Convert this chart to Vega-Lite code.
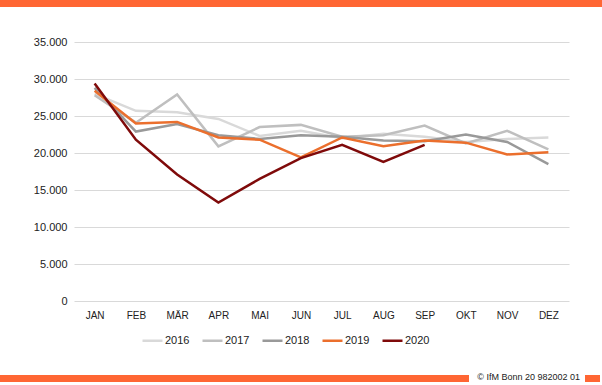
{
  "$schema": "https://vega.github.io/schema/vega-lite/v6.json",
  "width": 495,
  "height": 259,
  "autosize": {"type": "none"},
  "padding": {"left": 74, "top": 42, "right": 33, "bottom": 84},
  "background": "white",
  "config": {
    "font": "Liberation Sans",
    "view": {"stroke": null},
    "locale": {"number": {"decimal": ",", "thousands": ".", "grouping": [3], "currency": ["", " €"]}}
  },
  "title": {
    "text": "© IfM Bonn 20 982002 01",
    "orient": "bottom",
    "anchor": "end",
    "fontSize": 9,
    "fontWeight": "normal",
    "color": "#222222",
    "offset": -9,
    "dx": -22
  },
  "layer": [
    {
      "data": {
        "values": [
          {"m": "JAN", "y": "2016", "v": 28000}, {"m": "FEB", "y": "2016", "v": 25700}, {"m": "MÄR", "y": "2016", "v": 25500}, {"m": "APR", "y": "2016", "v": 24600}, {"m": "MAI", "y": "2016", "v": 22300}, {"m": "JUN", "y": "2016", "v": 23000}, {"m": "JUL", "y": "2016", "v": 22000}, {"m": "AUG", "y": "2016", "v": 22600}, {"m": "SEP", "y": "2016", "v": 22200}, {"m": "OKT", "y": "2016", "v": 21500}, {"m": "NOV", "y": "2016", "v": 21900}, {"m": "DEZ", "y": "2016", "v": 22100},
          {"m": "JAN", "y": "2017", "v": 27800}, {"m": "FEB", "y": "2017", "v": 24100}, {"m": "MÄR", "y": "2017", "v": 27900}, {"m": "APR", "y": "2017", "v": 20900}, {"m": "MAI", "y": "2017", "v": 23500}, {"m": "JUN", "y": "2017", "v": 23800}, {"m": "JUL", "y": "2017", "v": 22200}, {"m": "AUG", "y": "2017", "v": 22400}, {"m": "SEP", "y": "2017", "v": 23700}, {"m": "OKT", "y": "2017", "v": 21300}, {"m": "NOV", "y": "2017", "v": 23000}, {"m": "DEZ", "y": "2017", "v": 20500},
          {"m": "JAN", "y": "2018", "v": 28800}, {"m": "FEB", "y": "2018", "v": 22900}, {"m": "MÄR", "y": "2018", "v": 23900}, {"m": "APR", "y": "2018", "v": 22400}, {"m": "MAI", "y": "2018", "v": 21900}, {"m": "JUN", "y": "2018", "v": 22400}, {"m": "JUL", "y": "2018", "v": 22200}, {"m": "AUG", "y": "2018", "v": 21700}, {"m": "SEP", "y": "2018", "v": 21600}, {"m": "OKT", "y": "2018", "v": 22500}, {"m": "NOV", "y": "2018", "v": 21500}, {"m": "DEZ", "y": "2018", "v": 18500},
          {"m": "JAN", "y": "2019", "v": 28400}, {"m": "FEB", "y": "2019", "v": 24000}, {"m": "MÄR", "y": "2019", "v": 24200}, {"m": "APR", "y": "2019", "v": 22100}, {"m": "MAI", "y": "2019", "v": 21800}, {"m": "JUN", "y": "2019", "v": 19400}, {"m": "JUL", "y": "2019", "v": 22100}, {"m": "AUG", "y": "2019", "v": 20900}, {"m": "SEP", "y": "2019", "v": 21700}, {"m": "OKT", "y": "2019", "v": 21400}, {"m": "NOV", "y": "2019", "v": 19800}, {"m": "DEZ", "y": "2019", "v": 20100},
          {"m": "JAN", "y": "2020", "v": 29400}, {"m": "FEB", "y": "2020", "v": 21800}, {"m": "MÄR", "y": "2020", "v": 17100}, {"m": "APR", "y": "2020", "v": 13300}, {"m": "MAI", "y": "2020", "v": 16500}, {"m": "JUN", "y": "2020", "v": 19300}, {"m": "JUL", "y": "2020", "v": 21100}, {"m": "AUG", "y": "2020", "v": 18800}, {"m": "SEP", "y": "2020", "v": 21100}
        ]
      },
      "mark": {"type": "line", "strokeJoin": "miter", "strokeCap": "butt"},
      "encoding": {
        "x": {
          "field": "m", "type": "nominal",
          "sort": ["JAN", "FEB", "MÄR", "APR", "MAI", "JUN", "JUL", "AUG", "SEP", "OKT", "NOV", "DEZ"],
          "scale": {"type": "point", "padding": 0.5},
          "axis": {"title": null, "labelAngle": 0, "domain": false, "ticks": false, "labelPadding": 9, "labelFontSize": 10, "labelColor": "#222222", "grid": false}
        },
        "y": {
          "field": "v", "type": "quantitative",
          "scale": {"domain": [0, 35000]},
          "axis": {"title": null, "values": [0, 5000, 10000, 15000, 20000, 25000, 30000, 35000], "format": ",d", "domain": false, "ticks": false, "labelPadding": 7, "labelFontSize": 11, "labelColor": "#222222", "gridColor": "#d9d9d9", "gridWidth": 1}
        },
        "color": {
          "field": "y", "type": "nominal",
          "scale": {"domain": ["2016", "2017", "2018", "2019", "2020"], "range": ["#d9d9d9", "#bfbfbf", "#999999", "#eb6f2d", "#7f0a0a"]},
          "legend": {"title": null, "orient": "none", "legendX": 67, "legendY": 287, "direction": "horizontal", "columns": 5, "symbolType": "stroke", "symbolSize": 400, "labelFontSize": 11, "labelColor": "#222222", "labelOffset": 1, "columnPadding": 7, "padding": 0}
        },
        "strokeWidth": {
          "field": "y", "type": "nominal",
          "scale": {"domain": ["2016", "2017", "2018", "2019", "2020"], "range": [2.5, 2.5, 2.5, 3.5, 3.5]},
          "legend": null
        }
      }
    },
    {
      "data": {"values": [{}]},
      "mark": {"type": "rect", "color": "#ff6633"},
      "encoding": {"x": {"value": -74}, "x2": {"value": 528}, "y": {"value": -42}, "y2": {"value": -35}}
    },
    {
      "data": {"values": [{}]},
      "mark": {"type": "rect", "color": "#ff6633"},
      "encoding": {"x": {"value": -74}, "x2": {"value": 395}, "y": {"value": 333}, "y2": {"value": 340}}
    },
    {
      "data": {"values": [{}]},
      "mark": {"type": "rect", "color": "#ff6633"},
      "encoding": {"x": {"value": 511}, "x2": {"value": 526}, "y": {"value": 333}, "y2": {"value": 340}}
    }
  ]
}
